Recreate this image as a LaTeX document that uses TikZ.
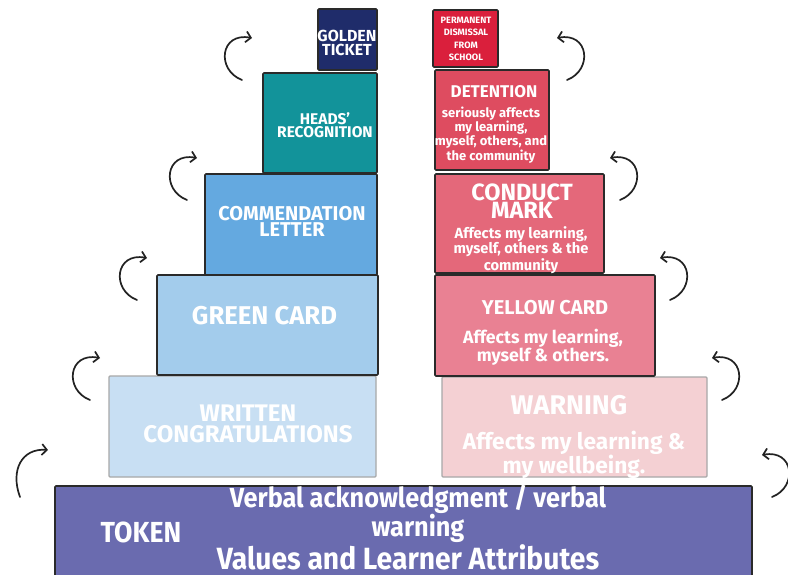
\documentclass[tikz,border=0pt]{standalone}
\usepackage{fontspec}
\setmainfont{Fira Sans}
\newfontfamily\condf{Fira Sans}[FakeStretch=0.92]
\usetikzlibrary{arrows.meta}
\definecolor{edge}{HTML}{2A2A2A}
\definecolor{edgelight}{HTML}{A8A8A8}
\definecolor{cgold}{HTML}{1F2C6A}
\definecolor{cperm}{HTML}{DA1F3C}
\definecolor{cheads}{HTML}{12939A}
\definecolor{ccomm}{HTML}{64A9E0}
\definecolor{cgreen}{HTML}{A3CCEC}
\definecolor{cwritten}{HTML}{C8DFF3}
\definecolor{cdet}{HTML}{DE4C60}
\definecolor{ccond}{HTML}{E4687A}
\definecolor{cyellow}{HTML}{E98193}
\definecolor{cwarn}{HTML}{F4D0D3}
\definecolor{ctoken}{HTML}{6A6BAF}
\definecolor{arrowc}{HTML}{222222}
\begin{document}
\begin{tikzpicture}[x=1pt,y=-1pt,
  blk/.style={draw=edge,line width=1.6pt,inner sep=0pt,outer sep=0pt,rounded corners=1pt},
  blklight/.style={blk,draw=edgelight,line width=1.3pt},
  txt/.style={text=white,align=center,inner sep=0pt,font=\bfseries},
  arr/.style={draw=arrowc,line width=1.7pt,line cap=round,-{Straight Barb[length=5pt,width=11pt]}}]
\useasboundingbox (0,0) rectangle (788,575);
\clip (0,0) rectangle (788,575);

% boxes
\node[blk,fill=ctoken,minimum width=697pt,minimum height=114pt] (tk) at (403.5,543) {};
\node[blklight,fill=cwritten,minimum width=267pt,minimum height=101pt] (wc) at (242.5,426.5) {};
\node[blklight,fill=cwarn,minimum width=265pt,minimum height=100pt] (wa) at (574.5,427) {};
\node[blk,fill=cgreen,minimum width=221pt,minimum height=100pt] (gc) at (267.5,325) {};
\node[blk,fill=cyellow,minimum width=220pt,minimum height=101pt] (yc) at (545,325.5) {};
\node[blk,fill=ccomm,minimum width=172pt,minimum height=101pt] (cl) at (291,224.5) {};
\node[blk,fill=ccond,minimum width=169pt,minimum height=99pt] (cm) at (519.5,223.5) {};
\node[blk,fill=cheads,minimum width=114pt,minimum height=100pt] (hr) at (320,123) {};
\node[blk,fill=cdet,minimum width=114pt,minimum height=100pt] (de) at (492,120) {};
\node[blk,fill=cgold,minimum width=59pt,minimum height=61pt] (gt) at (347.5,39.5) {};
\node[blk,fill=cperm,minimum width=65pt,minimum height=57pt] (pd) at (465.5,38.5) {};

% texts
\node[txt,font=\bfseries\fontsize{16}{14}\selectfont] (tgt) at (347,43) {GOLDEN\\TICKET};
\node[txt,font=\bfseries\fontsize{9.2}{12.3}\selectfont] (tpd) at (466,39) {PERMANENT\\DISMISSAL\\FROM\\SCHOOL};
\node[txt,font=\bfseries\fontsize{15.5}{13.5}\selectfont] (thr) at (325,125) {HEADS’\\RECOGNITION};
\node[txt,font=\bfseries\fontsize{20}{16}\selectfont] (tcl) at (292,221) {COMMENDATION\\LETTER};
\node[txt,font=\bfseries\fontsize{25.7}{25}\selectfont] (tgc) at (264.5,316) {GREEN CARD};
\node[txt,font=\bfseries\fontsize{24}{21}\selectfont] (twc) at (248,424) {WRITTEN\\CONGRATULATIONS};
\node[txt,font=\bfseries\fontsize{17}{17}\selectfont] (tde) at (494,92) {DETENTION};
\node[txt,font=\bfseries\fontsize{13}{10.8}\selectfont] (tde2) at (491,135) {seriously affects\\my learning,\\myself, others, and\\the community};
\node[txt,font=\bfseries\fontsize{23.5}{18}\selectfont] (tcm) at (522,201) {CONDUCT\\MARK};
\node[txt,font=\bfseries\fontsize{14.7}{12.5}\selectfont] (tcm2) at (521,250) {Affects my learning,\\myself, others \& the\\community};
\node[txt,font=\bfseries\fontsize{20}{20}\selectfont] (tyc) at (545,308) {YELLOW CARD};
\node[txt,font=\bfseries\fontsize{17.7}{14.5}\selectfont] (tyc2) at (543,347) {Affects my learning,\\myself \& others.};
\node[txt,font=\bfseries\fontsize{27}{27}\selectfont] (twa) at (569,405) {WARNING};
\node[txt,font=\bfseries\fontsize{22.7}{18}\selectfont] (twa2) at (574,455) {Affects my learning \&\\my wellbeing.};
\node[txt,font=\condf\bfseries\fontsize{27.5}{19.5}\selectfont] (ttk1) at (418,514) {Verbal acknowledgment / verbal\\warning};
\node[txt,font=\condf\bfseries\fontsize{29}{29}\selectfont] (ttk0) at (141,532) {TOKEN};
\node[txt,font=\condf\bfseries\fontsize{30.7}{30}\selectfont] (ttk2) at (408,557) {Values and Learner Attributes};

% curved arrows (left side)
\coordinate (l1s) at (242,80);  \coordinate (l1e) at (252,38);
\coordinate (l2s) at (187,200); \coordinate (l2e) at (197,158);
\coordinate (l3s) at (137,300); \coordinate (l3e) at (147,258);
\coordinate (l4s) at (90,400);  \coordinate (l4e) at (100,358);
\coordinate (l5s) at (20,497);  \coordinate (l5e) at (48,450);
\draw[arr] (l1s) .. controls +(-26,-10) and +(-32,-6) .. (l1e);
\draw[arr] (l2s) .. controls +(-26,-10) and +(-32,-6) .. (l2e);
\draw[arr] (l3s) .. controls +(-26,-10) and +(-32,-6) .. (l3e);
\draw[arr] (l4s) .. controls +(-26,-10) and +(-32,-6) .. (l4e);
\draw[arr] (l5s) .. controls +(-10,-27) and +(-26,-2) .. (l5e);
% curved arrows (right side)
\coordinate (r1s) at (567,80);  \coordinate (r1e) at (557,38);
\coordinate (r2s) at (620,200); \coordinate (r2e) at (610,158);
\coordinate (r3s) at (670,300); \coordinate (r3e) at (660,258);
\coordinate (r4s) at (722,400); \coordinate (r4e) at (712,358);
\coordinate (r5s) at (772,497); \coordinate (r5e) at (762,455);
\draw[arr] (r1s) .. controls +(26,-10) and +(32,-6) .. (r1e);
\draw[arr] (r2s) .. controls +(26,-10) and +(32,-6) .. (r2e);
\draw[arr] (r3s) .. controls +(26,-10) and +(32,-6) .. (r3e);
\draw[arr] (r4s) .. controls +(26,-10) and +(32,-6) .. (r4e);
\draw[arr] (r5s) .. controls +(26,-10) and +(32,-6) .. (r5e);
\end{tikzpicture}
\end{document}
